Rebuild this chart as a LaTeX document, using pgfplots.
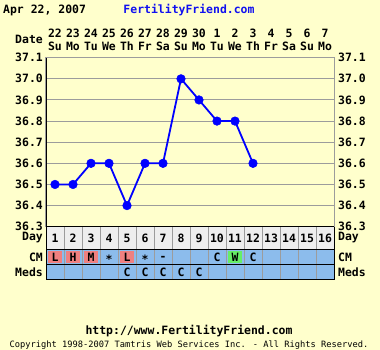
\documentclass[border=0pt]{standalone}
\usepackage{pgfplots}
\pgfplotsset{compat=1.18}
\usepackage{fontspec}
\setmainfont{DejaVu Sans Mono}
\definecolor{bgy}{HTML}{FFFFCC}
\definecolor{gridg}{HTML}{9C9C9C}
\definecolor{dayg}{HTML}{EEEEEE}
\definecolor{cellb}{HTML}{8CBCEC}
\definecolor{cellr}{HTML}{F08080}
\definecolor{cellg}{HTML}{66EE66}
\definecolor{ffblue}{HTML}{1010F0}
\newcommand{\pf}{\fontsize{11.5}{13}\selectfont\bfseries}
\begin{document}
\begin{tikzpicture}[x=1bp,y=1bp]
\fill[bgy] (0,0) rectangle (380,350);
\useasboundingbox (0,0) rectangle (380,350);
% table rows
\fill[dayg] (46,100.7) rectangle (334,123.3);
\fill[cellb] (46,70) rectangle (334,100.7);
\foreach \i in {1,2,3,5} {\fill[cellr] ({46+18*(\i-1)+2.3},87.3) rectangle ({46+18*\i-2.3},99);}
\foreach \i in {11} {\fill[cellg] ({46+18*(\i-1)+2.3},87.3) rectangle ({46+18*\i-2.3},99);}
\foreach \k in {1,...,15} {\draw[gridg, line width=1bp] ({46+18*\k},70) -- ({46+18*\k},123.3);}
\draw[black, line width=1bp] (46,100.7) -- (334,100.7);
\draw[black, line width=1bp] (46,85.7) -- (334,85.7);
\draw[black, line width=1bp] (46,70) -- (334,70);
\draw[black, line width=1bp] (334,70) -- (334,123.3);
\begin{axis}[
  at={(46bp,123.3bp)}, anchor=south west, scale only axis,
  width=288bp, height=169bp,
  xmin=0.5, xmax=16.5, ymin=36.3, ymax=37.1,
  xtick=\empty,
  minor xtick={1.5,2.5,3.5,4.5,5.5,6.5,7.5,8.5,9.5,10.5,11.5,12.5,13.5,14.5,15.5},
  xminorgrids,
  ytick={36.3,36.4,36.5,36.6,36.7,36.8,36.9,37.0,37.1},
  yticklabels={36.3,36.4,36.5,36.6,36.7,36.8,36.9,37.0,37.1},
  ymajorgrids,
  grid style={gridg, line width=1bp},
  minor grid style={gridg, line width=1bp},
  axis line style={gridg, line width=1bp},
  tick style={draw=none},
  major tick length=0pt, minor tick length=0pt,
  yticklabel pos=left,
  yticklabel style={font=\pf, inner sep=0pt, anchor=east, xshift=-3bp},
  /pgf/number format/assume math mode=true,
  clip=false,
]
\addplot[color=blue, line width=1.8bp, mark=*, mark size=4.3bp, mark options={fill=blue, draw=blue, line width=0.5bp}]
 coordinates {(1,36.5) (2,36.5) (3,36.6) (4,36.6) (5,36.4) (6,36.6) (7,36.6) (8,37.0) (9,36.9) (10,36.8) (11,36.8) (12,36.6)};
\end{axis}
\begin{axis}[
  at={(46bp,123.3bp)}, anchor=south west, scale only axis,
  width=288bp, height=169bp,
  xmin=0.5, xmax=16.5, ymin=36.3, ymax=37.1,
  xtick=\empty,
  ytick={36.3,36.4,36.5,36.6,36.7,36.8,36.9,37.0,37.1},
  yticklabels={36.3,36.4,36.5,36.6,36.7,36.8,36.9,37.0,37.1},
  axis line style={draw=none},
  tick style={draw=none},
  major tick length=0pt,
  yticklabel pos=right,
  yticklabel style={font=\pf, inner sep=0pt, anchor=west, xshift=4bp},
  /pgf/number format/assume math mode=true,
]
\end{axis}
\draw[black, line width=1bp] (46,70) -- (46,292.3);
\draw[black, line width=1bp] (46,123.3) -- (334,123.3);
% top date labels
\foreach \d/\w [count=\i] in {22/Su,23/Mo,24/Tu,25/We,26/Th,27/Fr,28/Sa,29/Su,30/Mo,1/Tu,2/We,3/Th,4/Fr,5/Sa,6/Su,7/Mo} {
  \node[font=\pf, inner sep=0pt] at ({55+18*(\i-1)},317) {\d};
  \node[font=\pf, inner sep=0pt] at ({55+18*(\i-1)},304) {\w};
}
\node[font=\pf, inner sep=0pt, anchor=east] at (43,311) {Date};
% day row
\foreach \i in {1,...,16} {\node[font=\pf, inner sep=0pt] at ({55+18*(\i-1)},112) {\i};}
% CM row
\foreach \i/\t in {1/L,2/H,3/M,5/L,10/C,11/W,12/C} {\node[font=\pf, inner sep=0pt] at ({55+18*(\i-1)},93) {\t};}
\foreach \i in {4,6} {\node[font=\pf, inner sep=0pt] at ({55+18*(\i-1)},91) {*};}
\node[font=\pf, inner sep=0pt] at ({55+18*6},92) {-};
% Meds row
\foreach \i in {5,...,9} {\node[font=\pf, inner sep=0pt] at ({55+18*(\i-1)},78) {C};}
% row labels
\node[font=\pf, inner sep=0pt, anchor=east] at (43,112) {Day};
\node[font=\pf, inner sep=0pt, anchor=east] at (43,93) {CM};
\node[font=\pf, inner sep=0pt, anchor=east] at (43,78) {Meds};
\node[font=\pf, inner sep=0pt, anchor=west] at (338,112) {Day};
\node[font=\pf, inner sep=0pt, anchor=west] at (338,93) {CM};
\node[font=\pf, inner sep=0pt, anchor=west] at (338,78) {Meds};
% titles
\node[font=\pf, inner sep=0pt, anchor=west] at (3,340) {Apr 22, 2007};
\node[font=\pf, inner sep=0pt, text=ffblue] at (189,340) {FertilityFriend.com};
\node[font=\pf, inner sep=0pt] at (189,19) {http://www.FertilityFriend.com};
\node[font=\fontsize{8.75}{10}\selectfont, inner sep=0pt] at (189,5) {Copyright 1998-2007 Tamtris Web Services Inc. - All Rights Reserved.};
\end{tikzpicture}
\end{document}
